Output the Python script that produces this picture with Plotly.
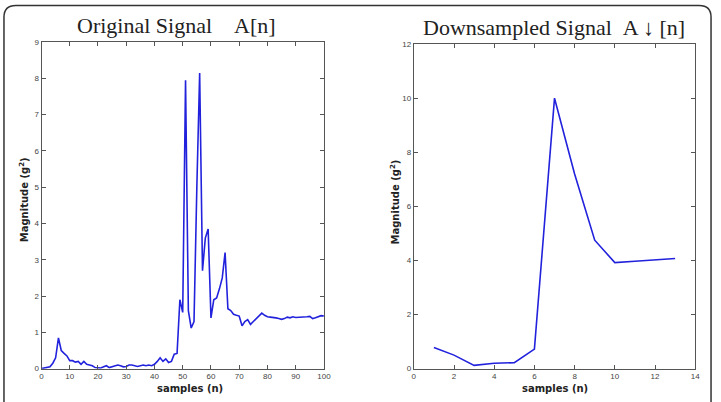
import plotly.graph_objects as go

# ---- data ----
orig_n = list(range(0, 101))
orig_val = [
    0.00, 0.01, 0.02, 0.05, 0.15, 0.30, 0.85, 0.50, 0.42, 0.35,
    0.22, 0.22, 0.18, 0.20, 0.12, 0.20, 0.12, 0.10, 0.08, 0.03,
    0.03, 0.02, 0.05, 0.08, 0.03, 0.05, 0.06, 0.10, 0.08, 0.05,
    0.06, 0.10, 0.10, 0.08, 0.06, 0.08, 0.10, 0.08, 0.10, 0.08,
    0.12, 0.20, 0.30, 0.20, 0.27, 0.17, 0.20, 0.40, 0.42, 1.90,
    1.55, 7.95, 1.60, 1.12, 1.30, 5.00, 8.15, 2.70, 3.60, 3.85,
    1.40, 1.90, 1.95, 2.20, 2.50, 3.20, 1.65, 1.60, 1.50, 1.47,
    1.45, 1.18, 1.30, 1.35, 1.22, 1.30, 1.38, 1.45, 1.53, 1.47,
    1.43, 1.42, 1.42, 1.40, 1.38, 1.36, 1.38, 1.42, 1.40, 1.43,
    1.41, 1.42, 1.42, 1.44, 1.43, 1.44, 1.38, 1.40, 1.44, 1.46,
    1.45,
]

down_n = [1, 2, 3, 4, 5, 6, 7, 8, 9, 10, 11, 12, 13]
down_val = [0.78, 0.50, 0.12, 0.20, 0.22, 0.72, 10.0, 7.2, 4.75, 3.92, 3.97, 4.02, 4.07]

left_xticks = [0, 10, 20, 30, 40, 50, 60, 70, 80, 90, 100]
left_yticks = [0, 1, 2, 3, 4, 5, 6, 7, 8, 9]
right_xticks = [0, 2, 4, 6, 8, 10, 12, 14]
right_yticks = [0, 2, 4, 6, 8, 10, 12]

title_left = "Original Signal\u00a0\u00a0\u00a0\u00a0A[n]"
title_right = "Downsampled Signal\u00a0\u00a0A \u2193 [n]"
ylabel = "Magnitude (g<sup>2</sup>)"
xlabel = "samples (n)"

W, H = 721, 402
LINE = "#2222dd"
AXC = "#555555"

fig = go.Figure()
fig.add_trace(go.Scatter(x=orig_n, y=orig_val, mode="lines",
                         line=dict(color=LINE, width=1.6), xaxis="x", yaxis="y",
                         showlegend=False, hoverinfo="skip"))
fig.add_trace(go.Scatter(x=down_n, y=down_val, mode="lines",
                         line=dict(color=LINE, width=1.6), xaxis="x2", yaxis="y2",
                         showlegend=False, hoverinfo="skip"))

def px(x):
    return x / W

def py(y):
    return 1 - y / H

tickfont = dict(family="Liberation Sans, Arial", size=8, color="#444444")
axis_common = dict(showline=True, linecolor=AXC, linewidth=1, mirror="ticks",
                   ticks="inside", ticklen=4, tickcolor=AXC, tickwidth=1,
                   showgrid=False, zeroline=False, tickfont=tickfont)

fig.update_layout(
    width=W, height=H,
    margin=dict(l=0, r=0, t=0, b=0),
    paper_bgcolor="white", plot_bgcolor="white",
    xaxis=dict(domain=[px(40), px(326)], range=[0, 100], tickvals=left_xticks,
               anchor="y", **axis_common),
    yaxis=dict(domain=[py(373), py(39)], range=[0, 9], tickvals=left_yticks,
               anchor="x", **axis_common),
    xaxis2=dict(domain=[px(417), px(702)], range=[0, 14], tickvals=right_xticks,
                anchor="y2", **axis_common),
    yaxis2=dict(domain=[py(373), py(41)], range=[0, 12], tickvals=right_yticks,
                anchor="x2", **axis_common),
)

tfont = dict(family="Liberation Serif, Times New Roman", size=22, color="#222222")
lfont = dict(family="DejaVu Sans", size=10, color="#222222")

ann = [
    dict(text=title_left, x=px(177), y=py(22), font=tfont),
    dict(text=title_right, x=px(559), y=py(24), font=tfont),
    dict(text="<b>" + xlabel + "</b>", x=px(190), y=py(393), font=lfont),
    dict(text="<b>" + xlabel + "</b>", x=px(560), y=py(393), font=lfont),
    dict(text="<b>" + ylabel + "</b>", x=px(22), y=py(200), font=lfont, textangle=-90),
    dict(text="<b>" + ylabel + "</b>", x=px(398), y=py(203), font=lfont, textangle=-90),
]
for a in ann:
    a.update(xref="paper", yref="paper", showarrow=False, xanchor="center", yanchor="middle")
    fig.add_annotation(**a)

# rounded outer frame (decoration)
x0, x1, y0, y1, r = 2, 718, 1.5, 420, 12
path = (
    f"M {px(x0)},{py(y1)} L {px(x0)},{py(y0 + r)} "
    f"Q {px(x0)},{py(y0)} {px(x0 + r)},{py(y0)} "
    f"L {px(x1 - r)},{py(y0)} "
    f"Q {px(x1)},{py(y0)} {px(x1)},{py(y0 + r)} "
    f"L {px(x1)},{py(y1)}"
)
fig.add_shape(type="path", path=path, xref="paper", yref="paper",
              line=dict(color="#333333", width=1.5))

fig.write_html("out.html")
